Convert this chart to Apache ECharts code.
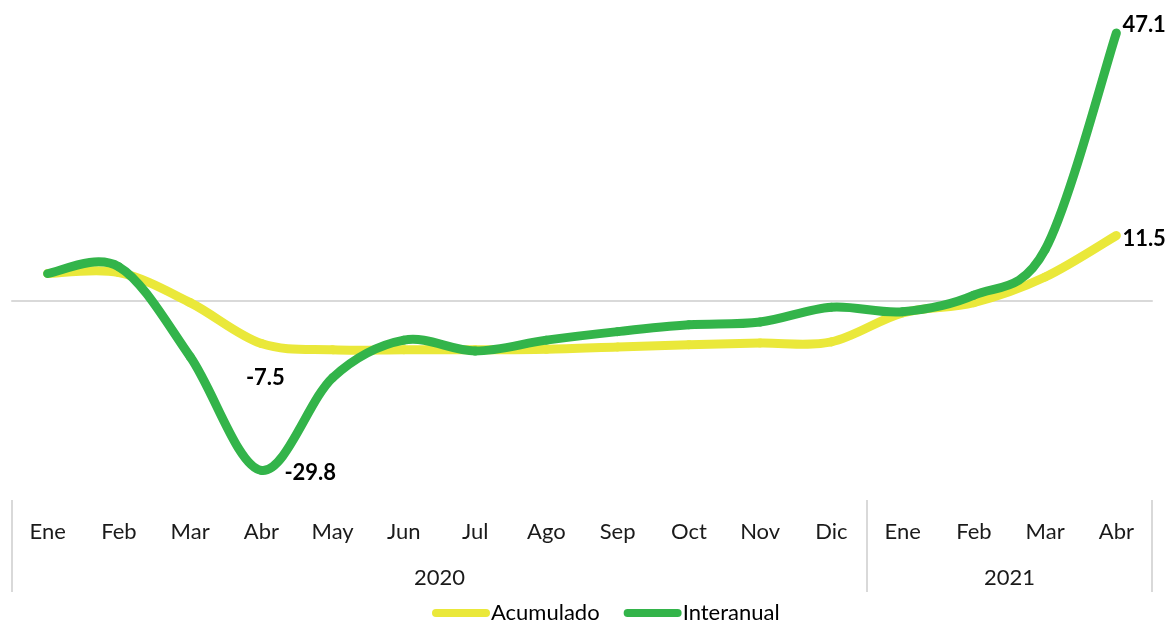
<!DOCTYPE html>
<html>
<head>
<meta charset="utf-8">
<script src="https://cdn.jsdelivr.net/npm/echarts@6/dist/echarts.min.js"></script>
<style>
html,body{margin:0;padding:0;background:#fff;}
#chart{width:1166px;height:620px;}
</style>
</head>
<body>
<div id="chart"></div>
<script>
// ---- data ----
const months = ['Ene','Feb','Mar','Abr','May','Jun','Jul','Ago','Sep','Oct','Nov','Dic','Ene','Feb','Mar','Abr'];
const years = ['2020','2021'];
const monthsPerYear = [12, 4];
const acumulado = [4.8, 5.0, -0.3, -7.5, -8.6, -8.6, -8.6, -8.5, -8.1, -7.7, -7.4, -7.2, -2.1, -0.3, 4.2, 11.5];
const interanual = [4.8, 6.0, -9.8, -29.8, -13.5, -6.9, -8.8, -6.9, -5.4, -4.2, -3.7, -1.1, -1.9, 1.0, 9.0, 47.1];
const labelledIdx = [3, 15];

// group boundaries and centres derived from month counts
const bounds = [-0.5];
const centres = [];
monthsPerYear.forEach(function (n) {
  const start = bounds[bounds.length - 1];
  centres.push(start + n / 2);
  bounds.push(start + n);
});

const FONT = 'Lato';
const YELLOW = '#EAE83A';
const GREEN = '#33B44A';

// smooth (Catmull-Rom style) curve drawn through the chart's own scales
function curveSeries(name, values, color, labelStyle) {
  const n = values.length;
  return {
    name: name, type: 'custom', coordinateSystem: 'cartesian2d', xAxisIndex: 0, yAxisIndex: 0,
    itemStyle: { color: color },
    encode: { x: 0, y: 1 },
    data: values.map(function (v, i) { return [i, v]; }),
    renderItem: function (params, api) {
      const i = params.dataIndex;
      const P = function (k) {
        const kk = Math.max(0, Math.min(n - 1, k));
        return api.coord([kk, values[kk]]);
      };
      const children = [];
      if (i < n - 1) {
        const p0 = P(i - 1), p1 = P(i), p2 = P(i + 1), p3 = P(i + 2);
        const t = 1 / 6;
        children.push({
          type: 'bezierCurve',
          shape: {
            x1: p1[0], y1: p1[1], x2: p2[0], y2: p2[1],
            cpx1: p1[0] + (p2[0] - p0[0]) * t, cpy1: p1[1] + (p2[1] - p0[1]) * t,
            cpx2: p2[0] - (p3[0] - p1[0]) * t, cpy2: p2[1] - (p3[1] - p1[1]) * t
          },
          style: { stroke: color, lineWidth: 9, lineCap: 'round', lineJoin: 'round', fill: null }
        });
      }
      if (labelledIdx.indexOf(i) >= 0 && labelStyle[i]) {
        const p = P(i), ls = labelStyle[i];
        children.push({
          type: 'text', z2: 20,
          x: p[0] + ls.dx, y: p[1] + ls.dy,
          style: {
            text: values[i].toFixed(1), fill: '#000',
            font: 'bold 22px ' + FONT, align: ls.align, verticalAlign: 'middle'
          }
        });
      }
      return { type: 'group', children: children };
    }
  };
}

const chart = echarts.init(document.getElementById('chart'));
chart.setOption({
  animation: false,
  grid: { left: 12, right: 14, top: 16.5, bottom: 120, containLabel: false },
  legend: {
    data: [
      { name: 'Acumulado', itemStyle: { color: YELLOW } },
      { name: 'Interanual', itemStyle: { color: GREEN } }
    ],
    left: 427, top: 597,
    itemWidth: 58, itemHeight: 9, itemGap: 24,
    icon: 'path://M4,0 H54 A4,4 0 0 1 54,8 H4 A4,4 0 0 1 4,0 Z',
    textStyle: { fontFamily: FONT, fontSize: 22, color: '#000', padding: [0, 0, 0, -4] }
  },
  xAxis: [
    {
      type: 'category', data: months, position: 'bottom', boundaryGap: true,
      axisLine: { show: false, onZero: false }, axisTick: { show: false },
      axisLabel: { fontFamily: FONT, fontSize: 22, color: '#1a1a1a', margin: 21, interval: 0 }
    },
    {
      type: 'value', min: -0.5, max: 15.5, position: 'bottom',
      axisLine: { show: false, onZero: false }, splitLine: { show: false },
      axisTick: { show: true, customValues: bounds, length: 92, lineStyle: { color: '#d9d9d9', width: 2 } },
      axisLabel: {
        customValues: centres, fontFamily: FONT, fontSize: 22, color: '#1a1a1a', margin: 67,
        formatter: function (v) { const i = centres.indexOf(v); return i >= 0 ? years[i] : ''; }
      }
    },
    {
      type: 'category', data: months, boundaryGap: true,
      axisLine: { show: true, onZero: true, lineStyle: { color: '#d9d9d9', width: 2 } },
      axisTick: { show: false }, axisLabel: { show: false }
    }
  ],
  yAxis: { type: 'value', min: -35, max: 50, show: false, splitLine: { show: false } },
  series: [
    curveSeries('Acumulado', acumulado, YELLOW, {
      3: { dx: 4, dy: 34, align: 'center' },
      15: { dx: 6, dy: 3, align: 'left' }
    }),
    curveSeries('Interanual', interanual, GREEN, {
      3: { dx: 23, dy: 2, align: 'left' },
      15: { dx: 6, dy: -8, align: 'left' }
    })
  ]
});
</script>
</body>
</html>
